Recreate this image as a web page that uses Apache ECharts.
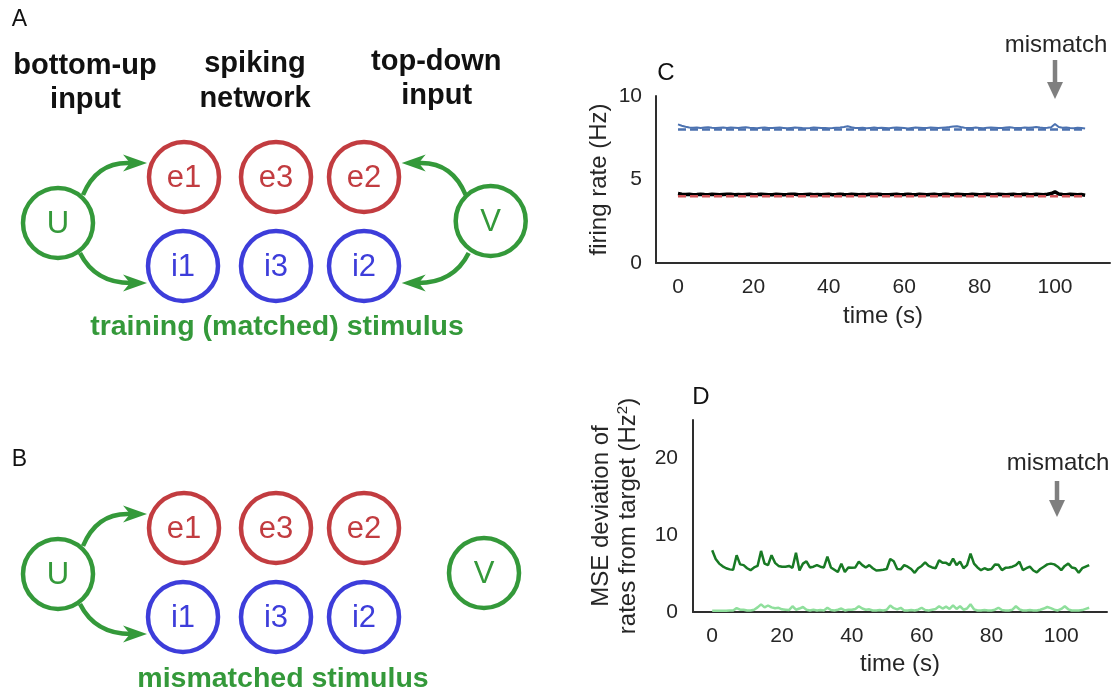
<!DOCTYPE html>
<html>
<head>
<meta charset="utf-8">
<script src="https://cdn.jsdelivr.net/npm/echarts@6/dist/echarts.min.js"></script>
<style>
  html, body { margin: 0; padding: 0; background: #ffffff; }
  #chart { width: 1117px; height: 696px; }
</style>
</head>
<body>
<div id="chart"></div>
<script>
// ---- data: firing rates (panel C), one sample per second ----
const rateBlue = [
  8.30, 8.22, 8.16, 8.12, 8.10, 8.12, 8.09, 8.11, 8.13, 8.10,
  8.08, 8.10, 8.12, 8.09, 8.11, 8.10, 8.08, 8.11, 8.13, 8.10,
  8.09, 8.07, 8.10, 8.12, 8.09, 8.08, 8.10, 8.11, 8.09, 8.07,
  8.09, 8.11, 8.10, 8.08, 8.07, 8.09, 8.12, 8.10, 8.08, 8.09,
  8.07, 8.08, 8.10, 8.12, 8.15, 8.19, 8.13, 8.09, 8.08, 8.10,
  8.07, 8.09, 8.11, 8.08, 8.10, 8.09, 8.07, 8.10, 8.12, 8.10,
  8.08, 8.06, 8.09, 8.11, 8.10, 8.08, 8.09, 8.11, 8.10, 8.08,
  8.10, 8.12, 8.14, 8.17, 8.19, 8.14, 8.10, 8.08, 8.09, 8.11,
  8.09, 8.07, 8.10, 8.12, 8.10, 8.08, 8.09, 8.11, 8.13, 8.10,
  8.08, 8.09, 8.11, 8.10, 8.12, 8.14, 8.11, 8.09, 8.10, 8.13,
  8.32, 8.14, 8.10, 8.12, 8.09, 8.07, 8.10, 8.08, 8.06
];
const rateBlack = [
  4.16, 4.12, 4.10, 4.11, 4.09, 4.10, 4.12, 4.10, 4.09, 4.11,
  4.10, 4.08, 4.10, 4.12, 4.11, 4.09, 4.10, 4.08, 4.10, 4.11,
  4.09, 4.10, 4.12, 4.10, 4.08, 4.09, 4.11, 4.10, 4.09, 4.10,
  4.12, 4.11, 4.09, 4.08, 4.10, 4.11, 4.09, 4.10, 4.08, 4.10,
  4.11, 4.09, 4.10, 4.12, 4.10, 4.09, 4.11, 4.10, 4.08, 4.10,
  4.09, 4.11, 4.10, 4.12, 4.10, 4.09, 4.08, 4.10, 4.11, 4.09,
  4.10, 4.12, 4.10, 4.09, 4.11, 4.10, 4.08, 4.10, 4.11, 4.09,
  4.10, 4.12, 4.10, 4.09, 4.11, 4.10, 4.08, 4.09, 4.11, 4.10,
  4.09, 4.10, 4.12, 4.10, 4.09, 4.11, 4.10, 4.08, 4.10, 4.11,
  4.09, 4.10, 4.12, 4.10, 4.09, 4.11, 4.10, 4.09, 4.12, 4.16,
  4.26, 4.13, 4.10, 4.09, 4.11, 4.10, 4.08, 4.10, 4.06
];
// target rates (dashed), start and end of the run
const targetTime = [0, 108];
const targetBlue = [8.0, 8.0];
const targetRed = [4.0, 4.0];

// ---- data: MSE deviation from target (panel D) ----
const mseDark = [
  8.05, 6.9, 6.3, 5.95, 5.7, 5.55, 5.5, 7.4, 6.2, 6.1,
  5.7, 5.45, 5.8, 6.0, 7.95, 6.3, 6.1, 7.4, 6.4, 6.0,
  5.9, 5.9, 6.0, 5.75, 7.7, 5.4, 6.3, 6.6, 5.8, 5.9,
  6.1, 5.9, 5.8, 7.2, 5.8, 5.5, 5.2, 6.3, 5.2, 5.8,
  5.75, 5.8, 6.55, 6.1, 5.8, 6.1, 5.7, 5.4, 5.45, 5.5,
  5.6, 6.9, 6.6, 5.6, 5.55, 6.1, 5.9, 5.6, 5.1, 5.7,
  6.0, 6.45, 6.0, 5.8, 5.7, 6.75, 6.4, 6.4, 6.1, 6.95,
  6.1, 6.55, 5.7, 6.1, 7.6, 6.3, 5.8, 5.45, 5.7, 5.5,
  5.6, 6.2, 6.15, 5.45, 5.75, 5.8, 5.9, 6.1, 6.55, 5.45,
  5.7, 5.9, 5.4, 5.15, 5.6, 5.9, 6.2, 6.3, 6.2, 5.9,
  5.45, 6.0, 6.3, 5.8, 5.7, 5.1, 5.7, 5.9, 6.1
];
const mseLight = [
  0.15, 0.15, 0.15, 0.15, 0.15, 0.2, 0.2, 0.5, 0.3, 0.3,
  0.2, 0.2, 0.3, 0.6, 1.0, 0.6, 0.85, 0.6, 0.5, 0.55,
  0.35, 0.3, 0.25, 0.75, 0.3, 0.45, 0.65, 0.3, 0.2, 0.3,
  0.2, 0.25, 0.2, 0.55, 0.25, 0.2, 0.3, 0.45, 0.2, 0.3,
  0.3, 0.4, 0.75, 0.45, 0.3, 0.35, 0.2, 0.2, 0.25, 0.2,
  0.3, 0.85, 0.5, 0.35, 0.55, 0.2, 0.2, 0.25, 0.2, 0.3,
  0.55, 0.25, 0.2, 0.3, 0.4, 0.75, 0.45, 0.7, 0.4, 0.85,
  0.4, 0.75, 0.3, 0.45, 1.0, 0.35, 0.2, 0.2, 0.25, 0.2,
  0.2, 0.3, 0.55, 0.25, 0.2, 0.2, 0.3, 0.75, 0.35, 0.2,
  0.2, 0.25, 0.2, 0.2, 0.3, 0.45, 0.65, 0.5, 0.3, 0.2,
  0.4, 0.75, 0.35, 0.2, 0.2, 0.2, 0.25, 0.4, 0.55
];

// ---- tick labels ----
const timeTicks = [0, 20, 40, 60, 80, 100];
const rateTicks = [0, 5, 10];
const mseTicks = [0, 10, 20];

// ---- styling ----
const FONT = '"Liberation Sans", Arial, Helvetica, sans-serif';
const AXIS_COLOR = '#2e2e2e';
const TEXT_COLOR = '#262626';
const C_BLUE = '#4c72b0';
const C_RED = '#cf5256';
const C_BLACK = '#000000';
const D_DARK = '#187a24';
const D_LIGHT = '#8fdf9c';
const NODE_RED = '#c23c40';
const NODE_BLUE = '#3d3dda';
const NODE_GREEN = '#34993a';
const NOTE_GRAY = '#7f7f7f';

const bySecond = arr => arr.map((v, i) => [i, v]);
const pairs = (xs, ys) => xs.map((x, i) => [x, ys[i]]);

function tickFormatter(list) {
  return v => (list.some(t => Math.abs(t - v) < 1e-6) ? String(Math.round(v)) : '');
}

function valueAxis(grid, min, max, ticks, extra) {
  return Object.assign({
    type: 'value', gridIndex: grid, min: min, max: max,
    axisLine: { show: true, onZero: false, lineStyle: { color: AXIS_COLOR, width: 2 } },
    axisTick: { show: false },
    splitLine: { show: false },
    axisLabel: {
      customValues: ticks,
      formatter: tickFormatter(ticks),
      color: TEXT_COLOR, fontSize: 21, fontFamily: FONT
    },
    nameTextStyle: { color: TEXT_COLOR, fontSize: 24, fontFamily: FONT }
  }, extra);
}

// ---- network diagrams (panels A and B) ----
function txt(x, y, text, font, color) {
  return {
    type: 'text', x: x, y: y, silent: true,
    style: {
      text: text, font: font, fill: color,
      align: 'center', verticalAlign: 'middle',
      textAlign: 'center', textVerticalAlign: 'middle'
    }
  };
}
function node(cx, cy, label, color) {
  return [
    { type: 'circle', shape: { cx: cx, cy: cy, r: 35 }, style: { fill: 'none', stroke: color, lineWidth: 4.5 }, silent: true },
    txt(cx, cy + 1, label, '31px ' + FONT, color)
  ];
}
function head(tx, ty, dx, dy, color, len, half, notch) {
  const n = Math.hypot(dx, dy); dx /= n; dy /= n;
  const px = -dy, py = dx;
  return {
    type: 'polygon', silent: true,
    shape: { points: [
      [tx, ty],
      [tx - len * dx + half * px, ty - len * dy + half * py],
      [tx - (len - notch) * dx, ty - (len - notch) * dy],
      [tx - len * dx - half * px, ty - len * dy - half * py]
    ] },
    style: { fill: color }
  };
}
function curvedArrow(p0, c, p1, tip, dir) {
  return [
    { type: 'bezierCurve', silent: true,
      shape: { x1: p0[0], y1: p0[1], cpx1: c[0], cpy1: c[1], x2: p1[0], y2: p1[1] },
      style: { stroke: NODE_GREEN, lineWidth: 4.5, fill: null } },
    head(tip[0], tip[1], dir[0], dir[1], NODE_GREEN, 24, 8.5, 7)
  ];
}
function mirrorX(m, pts) { return pts.map(p => [2 * m - p[0], p[1]]); }

function network(oy, vx, vy, topDown) {
  const els = [];
  els.push(...node(184, 177 + oy, 'e1', NODE_RED));
  els.push(...node(276, 177 + oy, 'e3', NODE_RED));
  els.push(...node(364, 177 + oy, 'e2', NODE_RED));
  els.push(...node(183, 266 + oy, 'i1', NODE_BLUE));
  els.push(...node(276, 266 + oy, 'i3', NODE_BLUE));
  els.push(...node(364, 266 + oy, 'i2', NODE_BLUE));
  els.push(...node(58, 223 + oy, 'U', NODE_GREEN));
  els.push(...node(vx, vy, 'V', NODE_GREEN));
  const up = [[83, 195 + oy], [97, 161 + oy], [131, 163 + oy], [147, 163 + oy]];
  const dn = [[80, 253 + oy], [95, 283 + oy], [131, 283 + oy], [147, 283 + oy]];
  els.push(...curvedArrow(up[0], up[1], up[2], up[3], [1, 0]));
  els.push(...curvedArrow(dn[0], dn[1], dn[2], dn[3], [1, 0]));
  if (topDown) {
    const m = (58 + vx) / 2;
    const u2 = mirrorX(m, up), d2 = mirrorX(m, dn);
    els.push(...curvedArrow(u2[0], u2[1], u2[2], u2[3], [-1, 0]));
    els.push(...curvedArrow(d2[0], d2[1], d2[2], d2[3], [-1, 0]));
  }
  return els;
}

function mismatchNote(x, textY, shaftTop, tipY) {
  return [
    txt(x + 1, textY, 'mismatch', '24px ' + FONT, TEXT_COLOR),
    { type: 'line', silent: true,
      shape: { x1: x, y1: shaftTop, x2: x, y2: tipY - 15 },
      style: { stroke: NOTE_GRAY, lineWidth: 4.5 } },
    { type: 'polygon', silent: true,
      shape: { points: [[x, tipY], [x - 8, tipY - 17], [x + 8, tipY - 17]] },
      style: { fill: NOTE_GRAY } }
  ];
}

const BOLD = 'bold 29px ' + FONT;
const graphics = [
  txt(19.5, 20, 'A', '23px ' + FONT, '#111'),
  txt(19.5, 460, 'B', '23px ' + FONT, '#111'),
  txt(666, 73, 'C', '24px ' + FONT, '#111'),
  txt(701, 397, 'D', '24px ' + FONT, '#111'),
  txt(85, 66, 'bottom-up', BOLD, '#111'),
  txt(85.5, 100, 'input', BOLD, '#111'),
  txt(255, 64, 'spiking', BOLD, '#111'),
  txt(255, 98.7, 'network', BOLD, '#111'),
  txt(436.3, 61.7, 'top-down', BOLD, '#111'),
  txt(436.7, 96, 'input', BOLD, '#111'),
  txt(277, 327, 'training (matched) stimulus', 'bold 28.5px ' + FONT, NODE_GREEN),
  txt(283, 679, 'mismatched stimulus', 'bold 28.5px ' + FONT, NODE_GREEN),
  ...network(0, 490.7, 221, true),
  ...network(351, 484, 573, false),
  ...mismatchNote(1055, 45, 60, 99),
  ...mismatchNote(1057, 463, 481, 517)
];

const chart = echarts.init(document.getElementById('chart'), null, { renderer: 'canvas' });

chart.setOption({
  animation: false,
  backgroundColor: '#ffffff',
  textStyle: { fontFamily: FONT },
  grid: [
    { left: 656, top: 96, width: 454, height: 167 },
    { left: 693, top: 420, width: 414, height: 192 }
  ],
  xAxis: [
    valueAxis(0, -5.84, 114.6, timeTicks, {
      name: 'time (s)', nameLocation: 'middle', nameGap: 41,
      axisLabel: { customValues: timeTicks, formatter: tickFormatter(timeTicks), margin: 14,
        color: TEXT_COLOR, fontSize: 21, fontFamily: FONT }
    }),
    valueAxis(1, -5.5, 113.1, timeTicks, {
      name: 'time (s)', nameLocation: 'middle', nameGap: 40,
      axisLabel: { customValues: timeTicks, formatter: tickFormatter(timeTicks), margin: 14,
        color: TEXT_COLOR, fontSize: 21, fontFamily: FONT }
    })
  ],
  yAxis: [
    valueAxis(0, 0, 10, rateTicks, {
      name: 'firing rate (Hz)', nameLocation: 'middle', nameGap: 45,
      axisLabel: { customValues: rateTicks, formatter: tickFormatter(rateTicks), margin: 14,
        color: TEXT_COLOR, fontSize: 21, fontFamily: FONT }
    }),
    valueAxis(1, 0, 25, mseTicks, {
      name: 'MSE deviation of\nrates from target (Hz{sup|2})', nameLocation: 'middle', nameGap: 51,
      nameTextStyle: {
        color: TEXT_COLOR, fontSize: 24, fontFamily: FONT, lineHeight: 27,
        rich: { sup: { fontSize: 15, fontFamily: FONT, color: TEXT_COLOR, verticalAlign: 'top', lineHeight: 27 } }
      },
      axisLabel: { customValues: mseTicks, formatter: tickFormatter(mseTicks), margin: 15,
        color: TEXT_COLOR, fontSize: 21, fontFamily: FONT }
    })
  ],
  series: [
    { type: 'line', xAxisIndex: 0, yAxisIndex: 0, data: pairs(targetTime, targetBlue), symbol: 'none',
      lineStyle: { color: C_BLUE, width: 2.5, type: [8, 4] }, silent: true },
    { type: 'line', xAxisIndex: 0, yAxisIndex: 0, data: bySecond(rateBlue), symbol: 'none',
      lineStyle: { color: C_BLUE, width: 2 }, silent: true },
    { type: 'line', xAxisIndex: 0, yAxisIndex: 0, data: bySecond(rateBlack), symbol: 'none',
      lineStyle: { color: C_BLACK, width: 3.5 }, silent: true },
    { type: 'line', xAxisIndex: 0, yAxisIndex: 0, data: pairs(targetTime, targetRed), symbol: 'none',
      lineStyle: { color: C_RED, width: 2.5, type: [8, 4] }, silent: true },
    { type: 'line', xAxisIndex: 1, yAxisIndex: 1, data: bySecond(mseDark), symbol: 'none',
      lineStyle: { color: D_DARK, width: 2.5 }, silent: true },
    { type: 'line', xAxisIndex: 1, yAxisIndex: 1, data: bySecond(mseLight), symbol: 'none',
      lineStyle: { color: D_LIGHT, width: 2.5 }, silent: true }
  ],
  graphic: { elements: graphics }
});
</script>
</body>
</html>
